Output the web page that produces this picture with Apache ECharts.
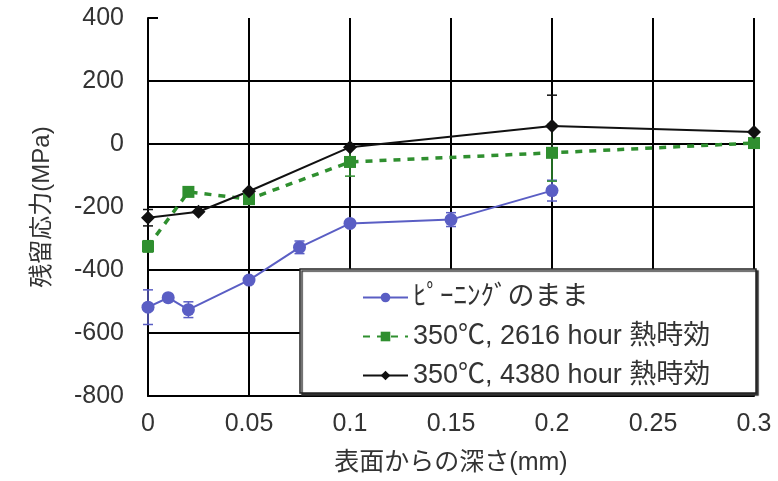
<!DOCTYPE html>
<html>
<head>
<meta charset="utf-8">
<script src="https://cdn.jsdelivr.net/npm/echarts@6/dist/echarts.min.js"></script>
<style>
  html, body { margin: 0; padding: 0; background: #fff; }
  #main { width: 778px; height: 481px; }
</style>
</head>
<body>
<div id="main"></div>
<script>
// values
const xTicks = [0, 0.05, 0.1, 0.15, 0.2, 0.25, 0.3];
const yTicks = [-800, -600, -400, -200, 0, 200, 400];

const nameBlue = 'ﾋﾟｰﾆﾝｸﾞのまま';
const depthBlue = [0, 0.01, 0.02, 0.05, 0.075, 0.1, 0.15, 0.2];
const stressBlue = [-518, -488, -526, -432, -328, -252, -240, -148];
const errBlue = [55, 0, 25, 10, 20, 10, 22, 33];

const nameGreen = '350℃, 2616 hour 熱時効';
const depthGreen = [0, 0.02, 0.05, 0.1, 0.2, 0.3];
const stressGreen = [-325, -152, -175, -57, -28, 3];
const errGreen = [18, 0, 10, 45, 90, 0];

const nameBlack = '350℃, 4380 hour 熱時効';
const depthBlack = [0, 0.025, 0.05, 0.1, 0.2, 0.3];
const stressBlack = [-234, -215, -150, -10, 57, 38];
const errBlack = [26, 0, 0, 0, 98, 0];

const FONT = 'Liberation Sans, Arial, Noto Sans CJK JP, sans-serif';
const TEXT = '#333';

const chart = echarts.init(document.getElementById('main'), null, { renderer: 'canvas' });

function points(xs, ys) {
  return xs.map((x, i) => [x, ys[i]]);
}

function errData(xs, ys, es) {
  const out = [];
  xs.forEach((x, i) => {
    if (es[i] > 0) out.push([x, ys[i] - es[i], ys[i] + es[i]]);
  });
  return out;
}

function errSeries(name, data, color) {
  return {
    name: name,
    type: 'custom',
    z: 1,
    silent: true,
    data: data,
    renderItem(params, api) {
      const x = api.value(0);
      const top = api.coord([x, api.value(2)]);
      const bot = api.coord([x, api.value(1)]);
      const w = 5;
      const st = { stroke: color, lineWidth: 1.5 };
      return {
        type: 'group',
        children: [
          { type: 'line', shape: { x1: top[0], y1: top[1], x2: bot[0], y2: bot[1] }, style: st },
          { type: 'line', shape: { x1: top[0] - w, y1: top[1], x2: top[0] + w, y2: top[1] }, style: st },
          { type: 'line', shape: { x1: bot[0] - w, y1: bot[1], x2: bot[0] + w, y2: bot[1] }, style: st }
        ]
      };
    }
  };
}

const blue = '#5a5ec4';
const green = '#2f8f2f';
const black = '#111';

chart.setOption({
  animation: false,
  backgroundColor: '#fff',
  grid: { left: 148, right: 24, top: 18, bottom: 84 },
  xAxis: {
    type: 'value',
    min: 0,
    max: 0.3,
    interval: 0.05,
    name: '表面からの深さ(mm)',
    nameLocation: 'middle',
    nameGap: 55,
    nameTextStyle: { fontSize: 25, color: TEXT, fontFamily: FONT },
    axisLine: { show: true, onZero: false, lineStyle: { color: '#000', width: 2 } },
    axisTick: { show: false },
    axisLabel: {
      margin: 16,
      fontSize: 25,
      color: TEXT,
      fontFamily: FONT,
      formatter: v => String(+v.toFixed(2))
    },
    splitLine: { show: true, lineStyle: { color: '#000', width: 2 } }
  },
  yAxis: {
    type: 'value',
    min: -800,
    max: 400,
    interval: 200,
    name: '残留応力(MPa)',
    nameLocation: 'middle',
    nameGap: 94,
    nameTextStyle: { fontSize: 24, color: TEXT, fontFamily: FONT },
    axisLine: { show: true, lineStyle: { color: '#000', width: 2 } },
    axisTick: { show: true, inside: true, length: 10, lineStyle: { color: '#000', width: 2 } },
    axisLabel: { margin: 24, fontSize: 25, color: TEXT, fontFamily: FONT },
    splitLine: { show: true, showMaxLine: false, lineStyle: { color: '#000', width: 2 } }
  },
  legend: {
    z: 100,
    orient: 'vertical',
    left: 357,
    top: 279,
    itemWidth: 45,
    itemHeight: 12,
    itemGap: 12,
    textStyle: { fontSize: 27, color: TEXT, fontFamily: FONT, lineHeight: 27 },
    data: [nameBlue, nameGreen, nameBlack]
  },
  graphic: [
    {
      type: 'rect',
      z: 50,
      shape: { x: 300, y: 269, width: 456, height: 124 },
      style: {
        fill: '#fff',
        stroke: '#222',
        lineWidth: 1.5,
        shadowColor: '#333',
        shadowOffsetX: 2,
        shadowOffsetY: 2,
        shadowBlur: 1
      }
    }
  ],
  series: [
    errSeries('errBlue', errData(depthBlue, stressBlue, errBlue), blue),
    errSeries('errGreen', errData(depthGreen, stressGreen, errGreen), green),
    errSeries('errBlack', errData(depthBlack, stressBlack, errBlack), black),
    {
      name: nameBlue,
      type: 'line',
      data: points(depthBlue, stressBlue),
      symbol: 'circle',
      symbolSize: 13,
      itemStyle: { color: blue },
      lineStyle: { color: blue, width: 2 }
    },
    {
      name: nameGreen,
      type: 'line',
      data: points(depthGreen, stressGreen),
      symbol: 'rect',
      symbolSize: 12,
      itemStyle: { color: green },
      lineStyle: { color: green, width: 3.5, type: [7, 7] }
    },
    {
      name: nameBlack,
      type: 'line',
      data: points(depthBlack, stressBlack),
      symbol: 'diamond',
      symbolSize: 14,
      itemStyle: { color: black },
      lineStyle: { color: black, width: 2 }
    }
  ]
});
</script>
</body>
</html>
